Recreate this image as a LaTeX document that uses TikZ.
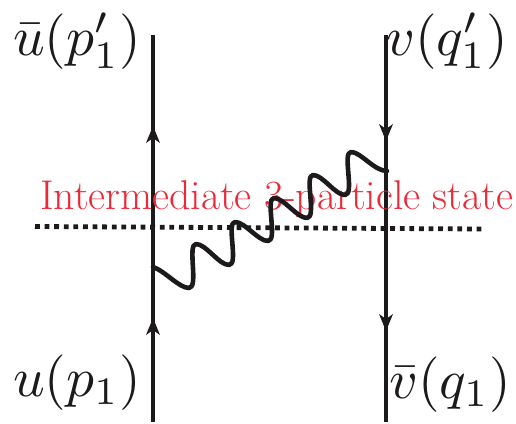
\documentclass[tikz,border=0pt]{standalone}
\usetikzlibrary{arrows.meta,decorations.markings}
\usepackage{graphicx}
\definecolor{lbl}{RGB}{28,26,27}
\definecolor{redtxt}{RGB}{237,40,56}
\tikzset{
 fermion/.style={line width=4.8pt,color=lbl},
 headmark/.style={fill=lbl,draw=none},
 photon/.style={line width=4.6pt,color=lbl,line cap=round,line join=round},
 cutline/.style={line width=4.8pt,color=lbl,dash pattern=on 4.8pt off 4.8pt},
 lab/.style={inner sep=0pt,anchor=base west,text=lbl}
}
\newcommand{\headup}[2]{\fill[headmark] (#1,#2) -- ++(7,17) -- ++(-7,-5) -- ++(-7,5) -- cycle;}
\newcommand{\headdown}[2]{\fill[headmark] (#1,#2) -- ++(7,-17) -- ++(-7,5) -- ++(-7,-5) -- cycle;}
\newcommand{\biglab}[1]{\scalebox{5.55}{$#1$}}
\begin{document}
\begin{tikzpicture}[x=1pt,y=-1pt]
\useasboundingbox (0,0) rectangle (516,423);
\coordinate (lt) at (153,35);
\coordinate (lb) at (153,422);
\coordinate (rt) at (386,35);
\coordinate (rb) at (386,422);
\coordinate (cl) at (35,226.5);
\coordinate (cr) at (482,229);
\draw[fermion] (lt) -- (lb);
\draw[fermion] (rt) -- (rb);
\headup{153}{126}
\headup{153}{318}
\headdown{386}{141}
\headdown{386}{331}
\draw[cutline] (cl) -- (cr);
\node[inner sep=0pt,anchor=base west,text=redtxt,font=\fontsize{41.6}{44}\selectfont] (state) at (40,209) {Intermediate 3-particle state};
\draw[photon] (153,267)
 .. controls (165,271) and (179,288) .. (189,288)
 .. controls (199,288) and (187,244) .. (196,244)
 .. controls (206,244) and (219,265) .. (229,265)
 .. controls (239,265) and (226,222) .. (235,222)
 .. controls (245,222) and (258,241) .. (268,241)
 .. controls (278,241) and (265,198) .. (274,198)
 .. controls (284,198) and (297,218) .. (307,218)
 .. controls (317,218) and (304,175) .. (313,175)
 .. controls (323,175) and (335,195) .. (345,195)
 .. controls (355,195) and (342,152) .. (351,152)
 .. controls (361,152) and (374,171) .. (387,171);
\node[lab] (a) at (13,55) {\biglab{\bar u(p'_1)}};
\node[lab] (b) at (386,55) {\biglab{v(q'_1)}};
\node[lab] (c) at (13,396) {\biglab{u(p_1)}};
\node[lab] (d) at (389,398) {\biglab{\bar v(q_1)}};
\end{tikzpicture}
\end{document}
